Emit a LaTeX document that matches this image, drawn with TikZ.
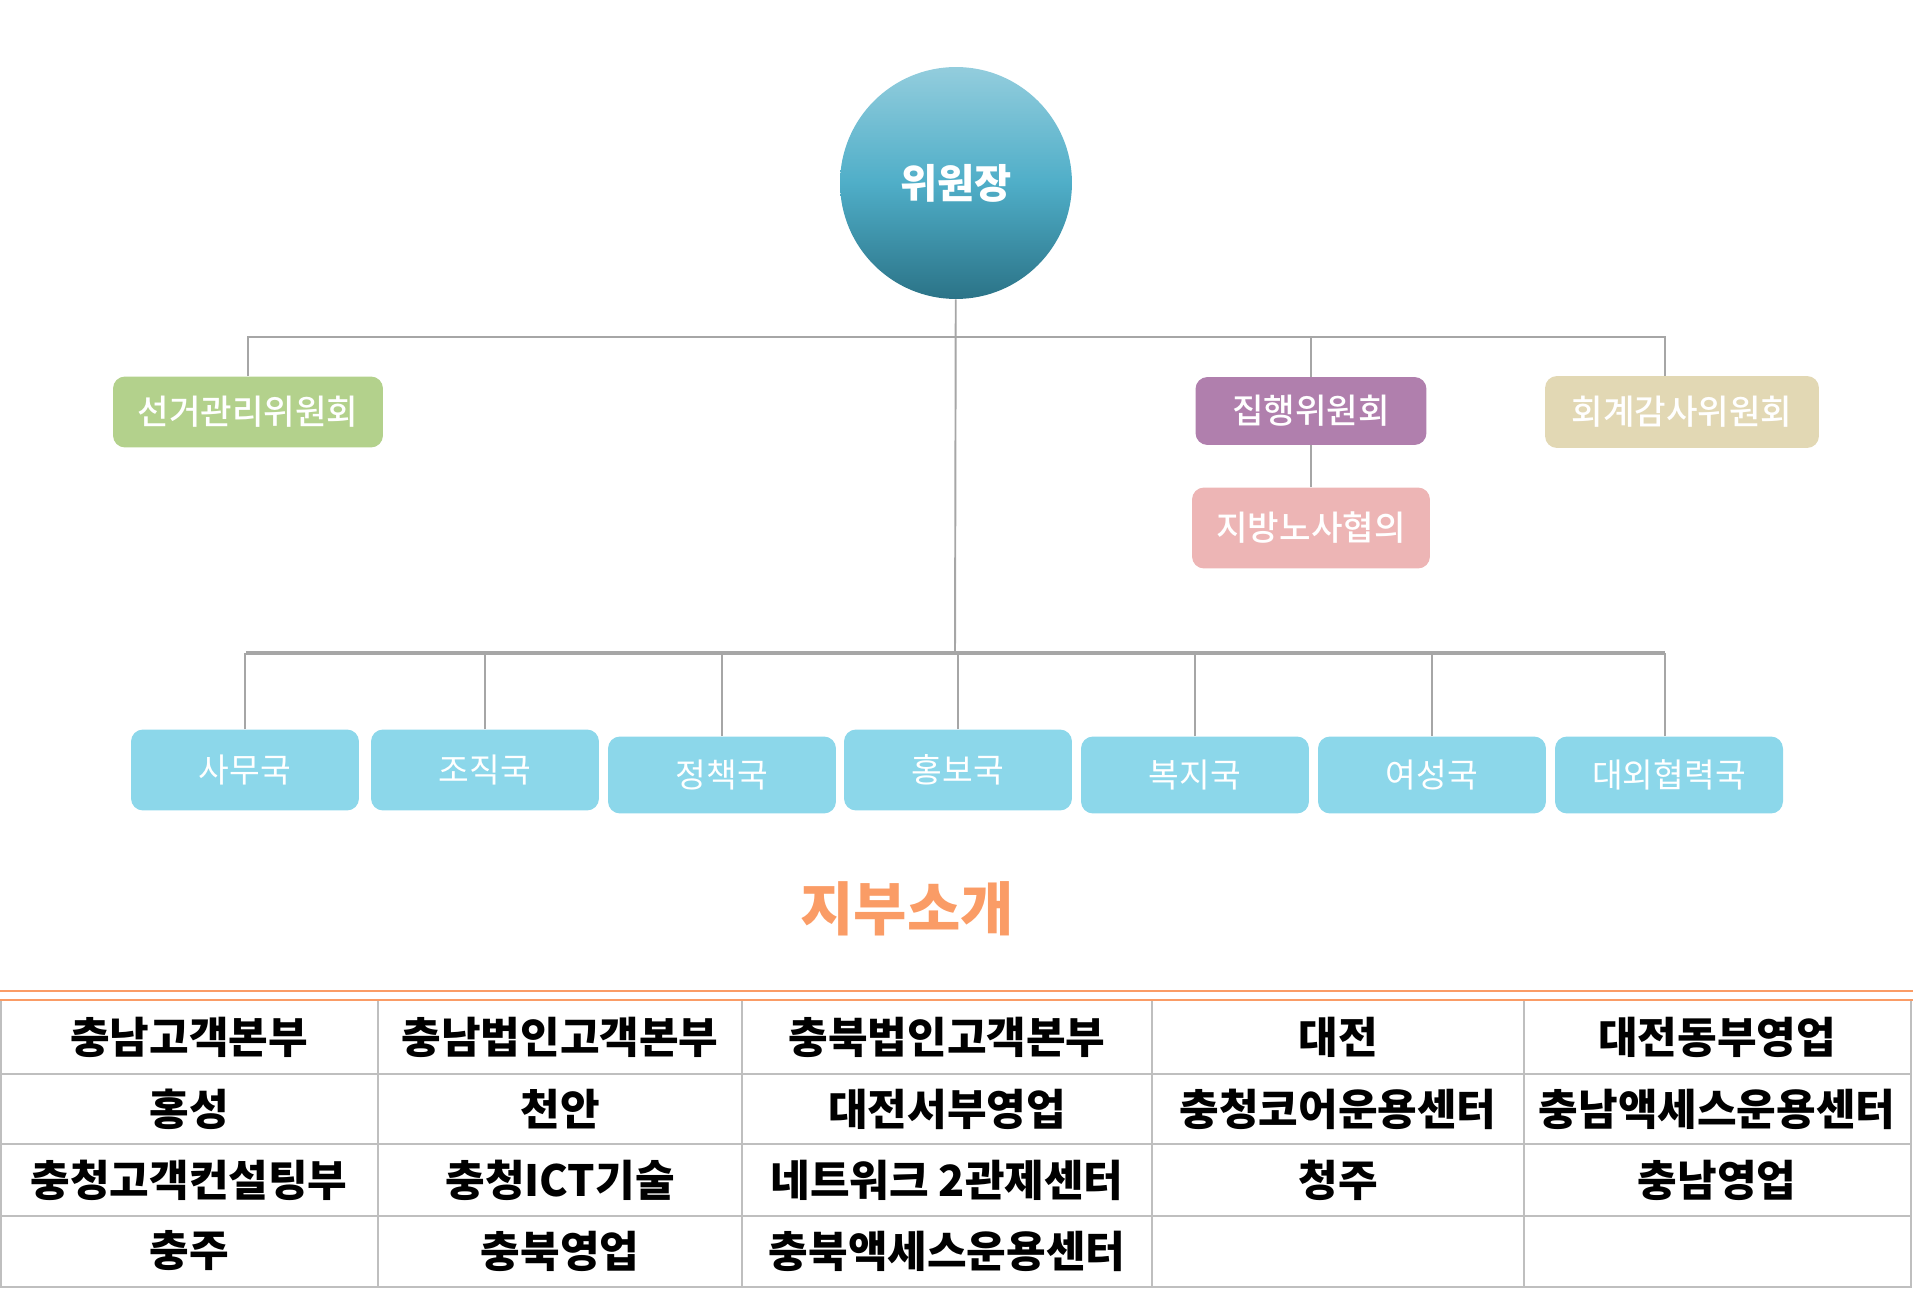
\documentclass[tikz,border=0pt]{standalone}
\usepackage{fontspec}
\setmainfont{Noto Sans CJK KR}
\newfontfamily\krmedium{Noto Sans CJK KR Medium}
\usetikzlibrary{calc}

\definecolor{chairtop}{HTML}{93CDDD}
\definecolor{chairmid}{HTML}{4FAEC8}
\definecolor{chairbot}{HTML}{2B7387}
\definecolor{linegray}{HTML}{A6A6A6}
\definecolor{cellgray}{HTML}{BFBFBF}
\definecolor{deptblue}{HTML}{8CD7EA}
\definecolor{electgreen}{HTML}{B3D18C}
\definecolor{execpurple}{HTML}{B07FAD}
\definecolor{auditbeige}{HTML}{E2D8B4}
\definecolor{councilpink}{HTML}{EDB5B5}
\definecolor{titleorange}{HTML}{FA9C66}

\begin{document}
\begin{tikzpicture}[x=0.02cm, y=-0.02cm]
			\tikzstyle{conn}=[draw=linegray, line width=1.1pt]
			\tikzstyle{drop}=[draw=linegray, line width=0.9pt]
			\tikzstyle{bus}=[draw=linegray, line width=1.8pt]
			\tikzstyle{board}=[rounded corners=0.24cm, text=white, inner sep=0pt, font=\krmedium\fontsize{19.5}{22}\selectfont]
			\tikzstyle{dept}=[rounded corners=0.24cm, fill=deptblue, text=white, inner sep=0pt, minimum width=4.56cm, font=\fontsize{19}{22}\selectfont]
			\tikzstyle{cell}=[font=\fontsize{24.5}{28}\selectfont\bfseries, inner sep=0pt]
			\useasboundingbox (0,0) rectangle (1913,1290);
			
			% chairman
			\node[circle, minimum size=4.64cm, inner sep=0pt, top color=chairtop, bottom color=chairbot, middle color=chairmid, text=white, font=\fontsize{23}{26}\selectfont\bfseries] (chair) at (956,183) {위원장};
			
			% committees
			\node[board, fill=electgreen, minimum width=5.4cm, minimum height=1.42cm] (election) at (248,412) {선거관리위원회};
			\node[board, fill=execpurple, minimum width=4.62cm, minimum height=1.36cm] (exec) at (1311,411) {집행위원회};
			\node[board, fill=auditbeige, minimum width=5.48cm, minimum height=1.44cm] (audit) at (1682,412) {회계감사위원회};
			\node[board, fill=councilpink, minimum width=4.76cm, minimum height=1.62cm] (council) at (1311,528) {지방노사협의};
			
			% departments
			\node[dept, minimum height=1.62cm] (office) at (245,770) {사무국};
			\node[dept, minimum height=1.62cm] (organize) at (485,770) {조직국};
			\node[dept, minimum height=1.54cm] (policy) at (722,775) {정책국};
			\node[dept, minimum height=1.62cm] (press) at (958,770) {홍보국};
			\node[dept, minimum height=1.54cm] (welfare) at (1195,775) {복지국};
			\node[dept, minimum height=1.54cm] (women) at (1432,775) {여성국};
			\node[dept, minimum height=1.54cm] (external) at (1669,775) {대외협력국};
			
			% bus lines
			\coordinate (upright) at (1665,337);
			\coordinate (lowleft) at (246,653);
			\coordinate (lowright) at (1665,653);
			\coordinate (lowmid) at (955,653);
			\path[conn] (chair) -- (lowmid);
			\path[conn] (election.north) -- (election.north |- upright) -- (upright) -- (upright |- audit.north);
			\path[conn] (exec.north) -- (exec.north |- upright);
			\path[conn] (exec) -- (council);
			\path[bus] (lowleft) -- (lowright);
			\path[drop] (office.north) -- (office.north |- lowleft);
			\path[drop] (organize.north) -- (organize.north |- lowleft);
			\path[drop] (policy.north) -- (policy.north |- lowleft);
			\path[drop] (press.north) -- (press.north |- lowleft);
			\path[drop] (welfare.north) -- (welfare.north |- lowleft);
			\path[drop] (women.north) -- (women.north |- lowleft);
			\path[drop] (lowright |- external.north) -- (lowright);
			
			% branch table
			\node[text=titleorange, font=\fontsize{33}{36}\selectfont\bfseries] (title) at (907,909) {지부소개};
			\draw[titleorange, line width=1.3pt] (0,991) -- (1913,991);
			\draw[cellgray, line width=1.1pt] (1,1000) -- (1,1287) -- (1911,1287) -- (1911,1000)
				(0,1074) -- (1911,1074) (0,1144) -- (1911,1144) (0,1216) -- (1911,1216)
				(378,1000) -- (378,1287) (742,1000) -- (742,1287) (1152,1000) -- (1152,1287) (1524,1000) -- (1524,1287);
			\draw[titleorange, line width=1.3pt] (0,1000) -- (1913,1000);
			
			\node[cell] (c11) at (189,1037) {충남고객본부};
			\node[cell] (c12) at (560,1037) {충남법인고객본부};
			\node[cell] (c13) at (947,1037) {충북법인고객본부};
			\node[cell] (c14) at (1338,1037) {대전};
			\node[cell] (c15) at (1717,1037) {대전동부영업};
			\node[cell] (c21) at (189,1109) {홍성};
			\node[cell] (c22) at (560,1109) {천안};
			\node[cell] (c23) at (947,1109) {대전서부영업};
			\node[cell] (c24) at (1338,1109) {충청코어운용센터};
			\node[cell] (c25) at (1717,1109) {충남액세스운용센터};
			\node[cell] (c31) at (189,1180) {충청고객컨설팅부};
			\node[cell] (c32) at (560,1180) {충청ICT기술};
			\node[cell] (c33) at (947,1180) {네트워크 2관제센터};
			\node[cell] (c34) at (1338,1180) {청주};
			\node[cell] (c35) at (1717,1180) {충남영업};
			\node[cell] (c41) at (189,1251) {충주};
			\node[cell] (c42) at (560,1251) {충북영업};
			\node[cell] (c43) at (947,1251) {충북액세스운용센터};
		\end{tikzpicture}
\end{document}
